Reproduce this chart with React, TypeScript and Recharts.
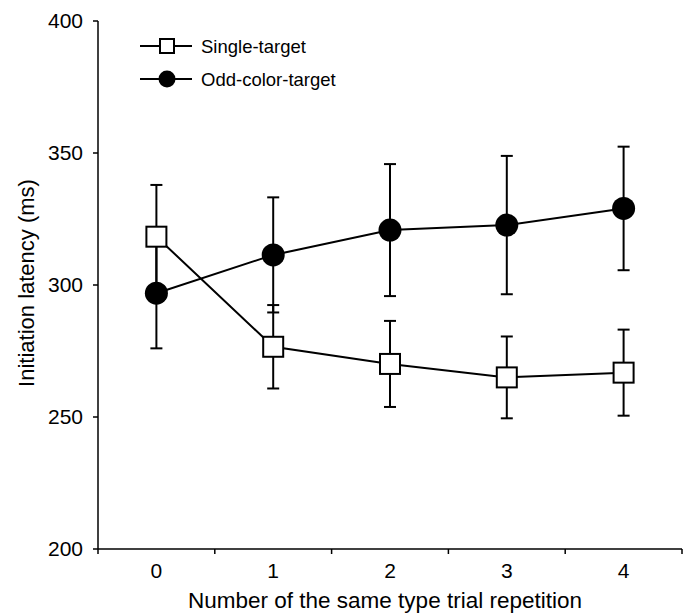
import React from 'react';
import { LineChart, Line, XAxis, YAxis, Legend } from 'recharts';

const repetitions = [0, 1, 2, 3, 4];
const singleTarget = [318.3, 276.6, 270.1, 265.0, 266.8];
const singleTargetErr = [19.6, 15.8, 16.3, 15.5, 16.3];
const oddColorTarget = [296.9, 311.4, 320.8, 322.7, 329.0];
const oddColorTargetErr = [20.9, 21.8, 25.0, 26.2, 23.4];
const yTicks = [200, 250, 300, 350, 400];
const xTicks = [-0.5, 0, 0.5, 1, 1.5, 2, 2.5, 3, 3.5, 4, 4.5];
const seriesNames = ['Single-target', 'Odd-color-target'];

const data = repetitions.map((x, i) => ({
  x,
  single: singleTarget[i],
  odd: oddColorTarget[i],
}));

// vertical error-bar segments (mean - err, mean + err) per point
const makeSegments = (means: number[], errs: number[]) =>
  repetitions.map((x, i) => [
    { x, v: means[i] - errs[i] },
    { x, v: means[i] + errs[i] },
  ]);
const oddSegments = makeSegments(oddColorTarget, oddColorTargetErr);
const singleSegments = makeSegments(singleTarget, singleTargetErr);

const FONT = '"Liberation Sans", Arial, Helvetica, sans-serif';

const XTick = (props: any) => {
  const { x, y, payload } = props;
  const v = payload.value;
  if (Number.isInteger(v)) {
    return (
      <text x={x} y={y + 29} textAnchor="middle" fontSize={21} fontFamily={FONT} fill="#000">
        {v}
      </text>
    );
  }
  return <line x1={x} y1={y} x2={x} y2={y + 5} stroke="#000" strokeWidth={1.5} />;
};

const SquareDot = (props: any) => {
  const { cx, cy } = props;
  if (cx == null || cy == null) return null;
  return <rect x={cx - 10} y={cy - 10} width={20} height={20} fill="#fff" stroke="#000" strokeWidth={2} />;
};

const CircleDot = (props: any) => {
  const { cx, cy } = props;
  if (cx == null || cy == null) return null;
  return <circle cx={cx} cy={cy} r={11.5} fill="#000" stroke="#000" strokeWidth={0} />;
};

const Cap = (props: any) => {
  const { cx, cy } = props;
  if (cx == null || cy == null) return null;
  return <line x1={cx - 6} y1={cy} x2={cx + 6} y2={cy} stroke="#000" strokeWidth={2} />;
};

const LegendContent = () => (
  <svg width={260} height={70} style={{ display: 'block' }}>
    <g>
      <line x1={10} y1={21} x2={62} y2={21} stroke="#000" strokeWidth={2} />
      <rect x={30} y={14} width={14} height={14} fill="#fff" stroke="#000" strokeWidth={2} />
      <text x={71} y={21} dominantBaseline="central" fontSize={18.5} fontFamily={FONT} fill="#000">
        {seriesNames[0]}
      </text>
    </g>
    <g>
      <line x1={10} y1={54} x2={62} y2={54} stroke="#000" strokeWidth={2} />
      <circle cx={37} cy={54} r={8.5} fill="#000" />
      <text x={71} y={54} dominantBaseline="central" fontSize={18.5} fontFamily={FONT} fill="#000">
        {seriesNames[1]}
      </text>
    </g>
  </svg>
);

export default function App() {
  return (
    <div style={{ position: 'absolute', left: 0, top: 0, background: '#fff' }}>
      <LineChart width={689} height={614} data={data} margin={{ top: 21, right: 7, bottom: 0, left: 0 }}>
        <XAxis
          dataKey="x"
          type="number"
          domain={[-0.5, 4.5]}
          ticks={xTicks}
          interval={0}
          tickSize={0}
          tickMargin={0}
          tickLine={false}
          tick={<XTick />}
          height={65}
          allowDuplicatedCategory={false}
          axisLine={{ stroke: '#000', strokeWidth: 1.5 }}
          label={(p: any) => {
            const vb = p.viewBox;
            return (
              <text
                x={vb.x + vb.width / 2 - 5}
                y={vb.y + vb.height - 6}
                textAnchor="middle"
                fontSize={22.5}
                fontFamily={FONT}
                fill="#000"
              >
                Number of the same type trial repetition
              </text>
            );
          }}
        />
        <YAxis
          type="number"
          domain={[200, 400]}
          ticks={yTicks}
          interval={0}
          width={98}
          tickSize={5}
          tickMargin={10}
          tick={{ fontSize: 21, fill: '#000', fontFamily: FONT }}
          tickLine={{ stroke: '#000', strokeWidth: 1.5 }}
          axisLine={{ stroke: '#000', strokeWidth: 1.5 }}
          label={(p: any) => {
            const vb = p.viewBox;
            const cx = vb.x + 26;
            const cy = vb.y + vb.height / 2 - 2;
            return (
              <text
                x={cx}
                y={cy}
                transform={`rotate(-90, ${cx}, ${cy})`}
                textAnchor="middle"
                dominantBaseline="central"
                fontSize={22}
                fontFamily={FONT}
                fill="#000"
              >
                Initiation latency (ms)
              </text>
            );
          }}
        />
        <Legend
          layout="vertical"
          align="center"
          verticalAlign="middle"
          content={<LegendContent />}
          wrapperStyle={{ left: 130, top: 25, width: 260, height: 70 }}
        />
        <Line
          dataKey="odd"
          name={seriesNames[1]}
          type="linear"
          stroke="#000"
          strokeWidth={2}
          dot={false}
          activeDot={false}
          legendType="none"
          isAnimationActive={false}
        />
        <Line
          dataKey="single"
          name={seriesNames[0]}
          type="linear"
          stroke="#000"
          strokeWidth={2}
          dot={false}
          activeDot={false}
          legendType="none"
          isAnimationActive={false}
        />
        {oddSegments.map((seg, i) => (
          <Line
            key={`oe${i}`}
            data={seg}
            dataKey="v"
            type="linear"
            stroke="#000"
            strokeWidth={2}
            dot={<Cap />}
            activeDot={false}
            legendType="none"
            isAnimationActive={false}
          />
        ))}
        {singleSegments.map((seg, i) => (
          <Line
            key={`se${i}`}
            data={seg}
            dataKey="v"
            type="linear"
            stroke="#000"
            strokeWidth={2}
            dot={<Cap />}
            activeDot={false}
            legendType="none"
            isAnimationActive={false}
          />
        ))}
        <Line
          dataKey="odd"
          name={seriesNames[1] + ' markers'}
          type="linear"
          stroke="none"
          dot={<CircleDot />}
          activeDot={false}
          legendType="none"
          isAnimationActive={false}
        />
        <Line
          dataKey="single"
          name={seriesNames[0] + ' markers'}
          type="linear"
          stroke="none"
          dot={<SquareDot />}
          activeDot={false}
          legendType="none"
          isAnimationActive={false}
        />
      </LineChart>
    </div>
  );
}
